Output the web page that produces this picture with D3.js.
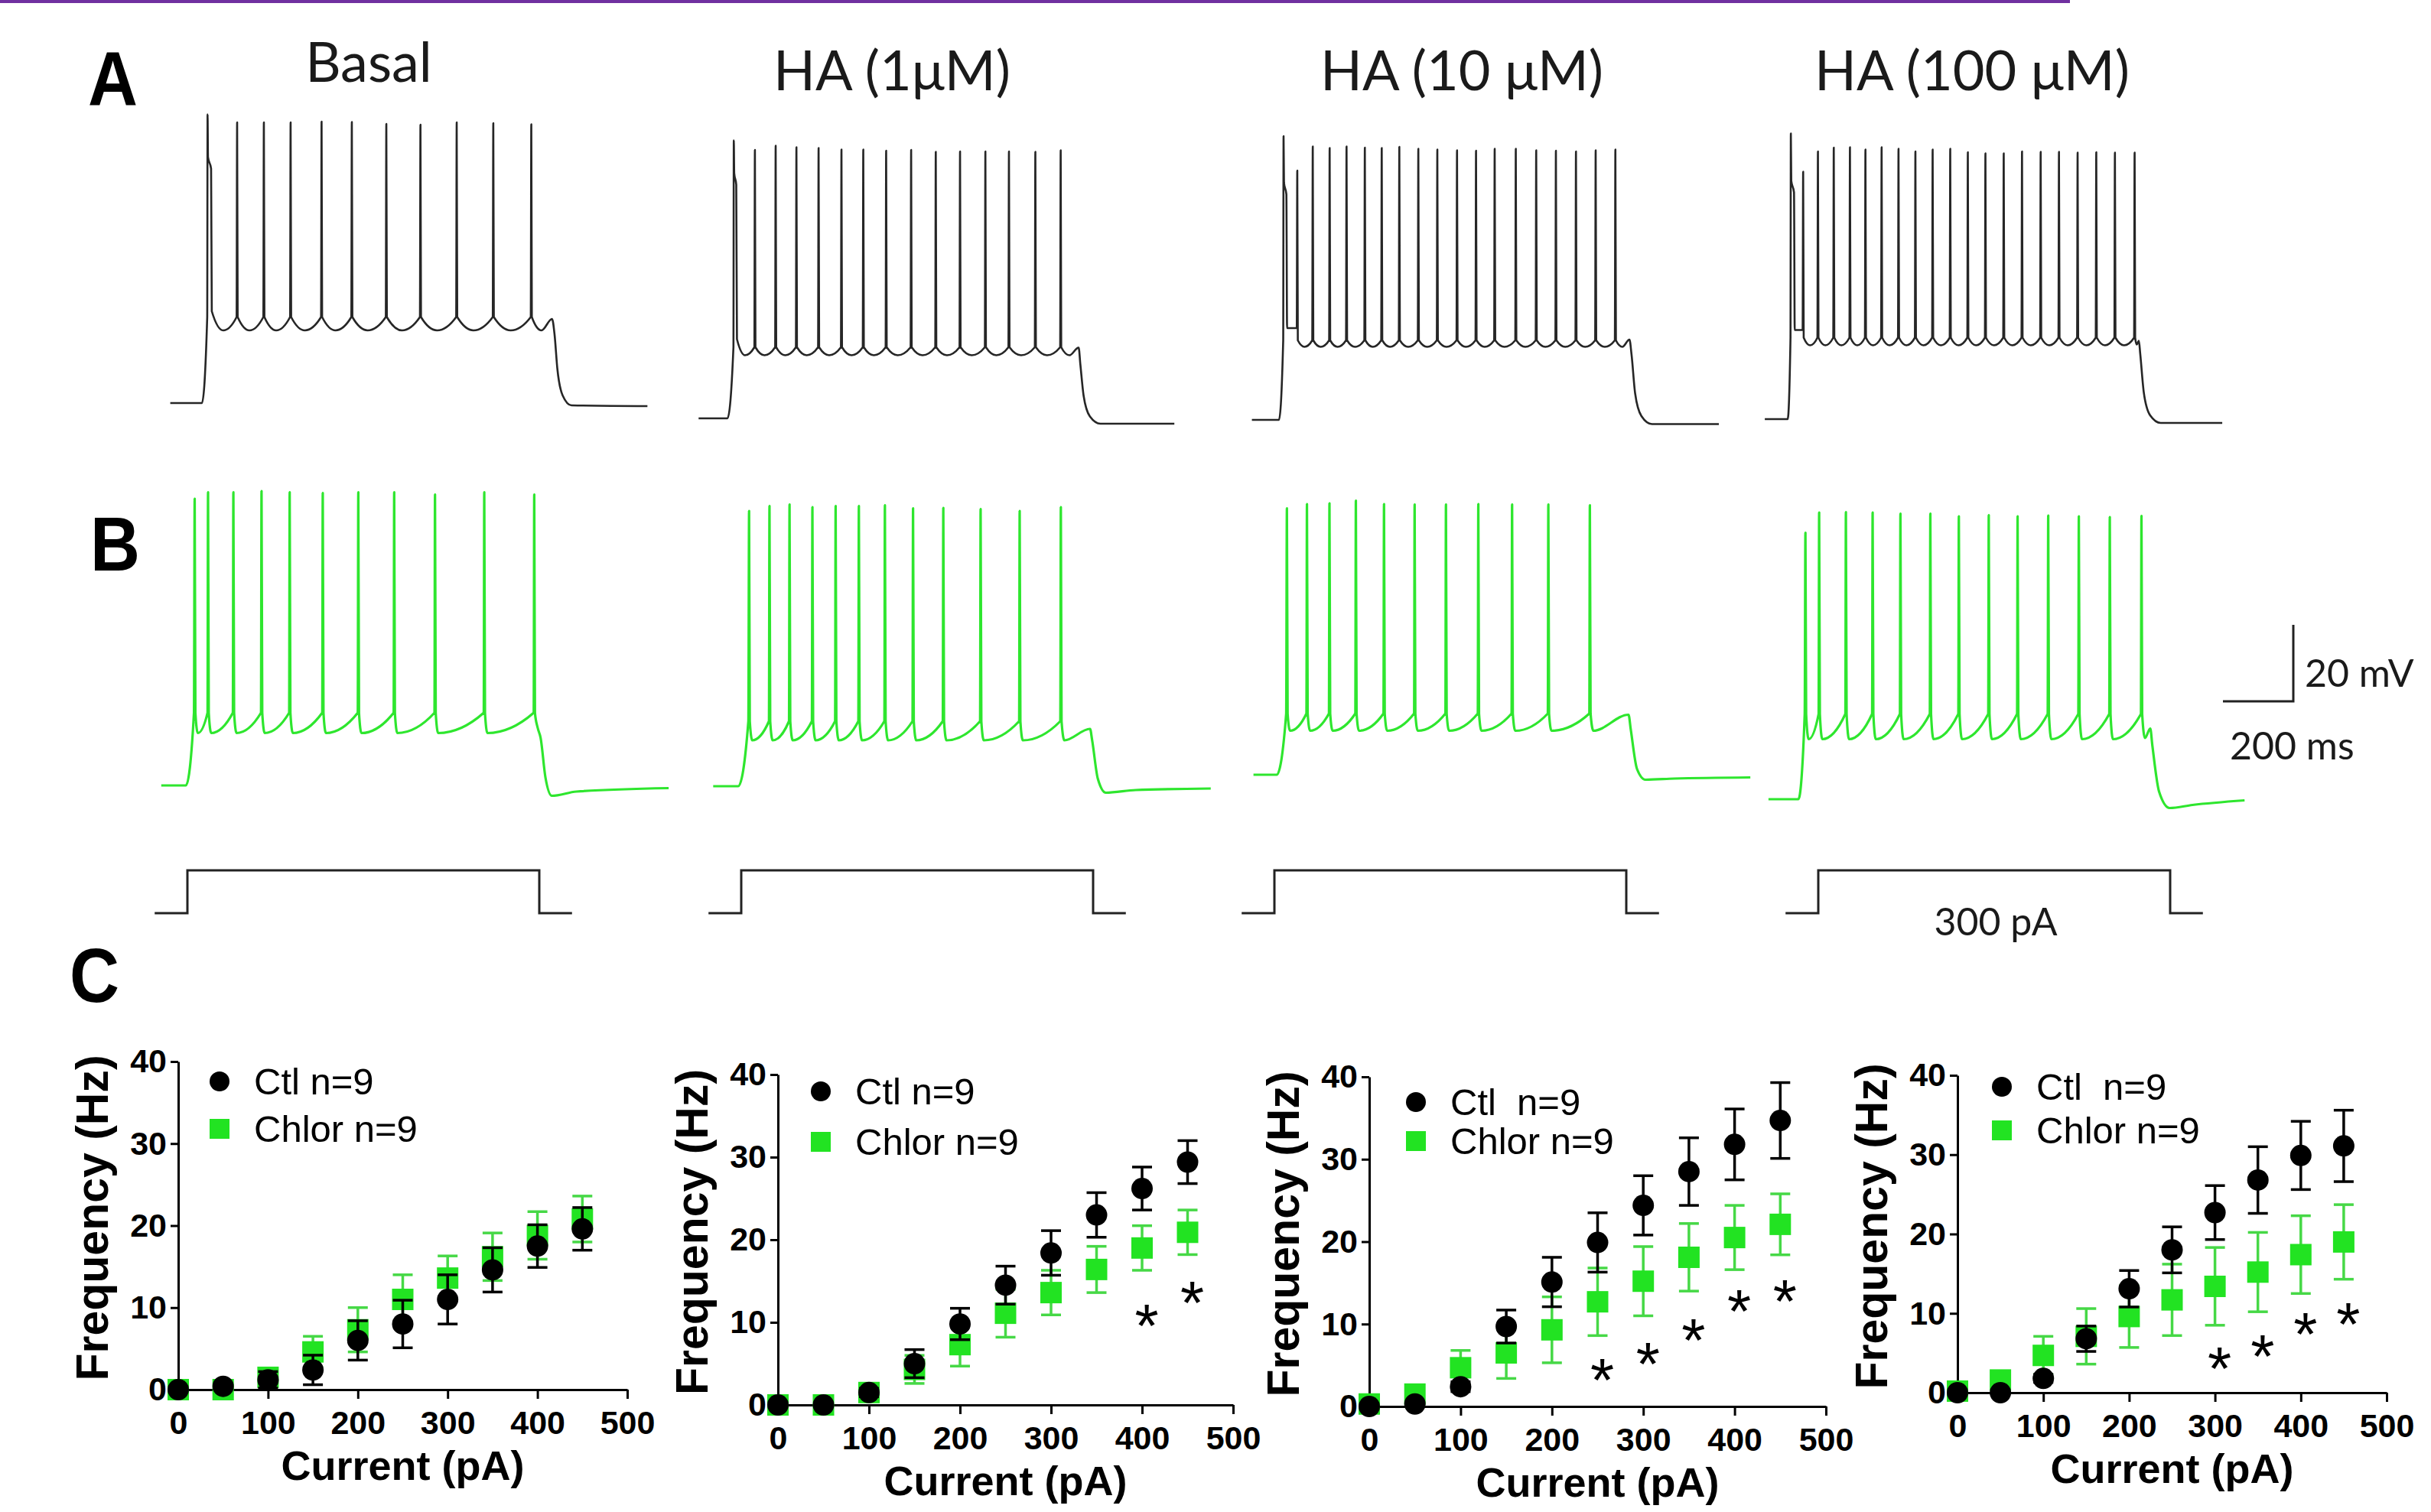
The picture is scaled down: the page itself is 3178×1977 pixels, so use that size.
<!DOCTYPE html>
<html>
<head>
<meta charset="utf-8">
<script src="https://cdnjs.cloudflare.com/ajax/libs/d3/7.8.5/d3.min.js"></script>
<style>
  body { margin: 0; background: #fff; overflow: hidden; }
  svg { display: block; }
</style>
</head>
<body>
<script>
const W = 3178, H = 1977;

// ---------------- data ----------------
const conditions = ["Basal", "HA (1μM)", "HA (10 μM)", "HA (100 μM)"];

// row A (black): spike times in ms after step onset, spike peaks in mV
const ctlSpikeTimes = [
  [16, 100, 176, 252, 340, 426, 524, 621, 724, 828, 936],
  [18, 78, 137, 196, 259, 324, 386, 451, 522, 592, 661, 733, 800, 875, 947],
  [13, 52, 96, 144, 192, 244, 292, 342, 396, 450, 506, 560, 613, 673, 731, 787, 844, 900, 956],
  [9, 44, 86, 131, 177, 221, 267, 315, 363, 412, 462, 512, 562, 614, 666, 719, 771, 824, 877, 930, 986]
];
const ctlSpikePeaks = [
  [5.5, 3.4, 3.4, 3.4, 3.6, 3.5, 3.0, 2.8, 3.4, 3.2, 2.9],
  [2.7, 0.2, 1.3, 0.9, 0.7, 0.3, 0.3, 0.0, 0.2, -0.3, -0.2, -0.2, -0.2, -0.3, 0.1],
  [4.2, -4.8, 1.5, 1.1, 1.5, 1.2, 1.1, 1.4, 0.9, 0.7, 0.5, 0.4, 0.9, 0.9, 0.5, 0.4, 0.2, 0.5, 0.7],
  [4.7, -5.3, 0, 1, 1.1, 0.5, 1.1, 0.7, 0, 0.5, 0.7, -0.2, -0.5, -0.5, 0, -0.1, -0.1, -0.3, -0.2, -0.3, -0.3]
];
const ctlTrough = [-51, -53.5, -50.9, -50.7];
const ctlThreshold = [-47.5, -51.4, -49.2, -48.7];
const ctlShoulder = [-8.7, -8.9, -11, -10.7];
const ctlShoulderDelay = [10, 7, 8, 9];
const ctlHump = [-46, -49.3, -46, -46.7];
const ctlStartTime = [-90, -82, -77, -65];
const ctlTail = [
  [[937.5, -47.5], [965, -51], [995, -48], [1002, -52], [1010, -61], [1025, -68], [1050, -70.6], [1266, -70.8]],
  [[948.5, -51.4], [972, -53.5], [998, -51.5], [1003, -56], [1012, -64], [1030, -69.5], [1060, -71.4], [1270, -71.4]],
  [[957.5, -49.2], [976, -50.9], [996, -49], [1002, -53], [1012, -63], [1030, -69], [1060, -71.1], [1250, -71.1]],
  [[987.5, -48.7], [992, -50.5], [998, -49.5], [1002, -53], [1012, -63], [1030, -69], [1060, -71], [1235, -71]]
];

// row B (green)
const chlSpikeTimes = [
  [25, 63, 135, 215, 295, 389, 490, 592, 708, 848, 990],
  [31, 89, 146, 211, 277, 343, 417, 497, 583, 689, 800, 917],
  [29, 86, 150, 225, 305, 392, 481, 573, 669, 772, 890],
  [20, 59, 135, 211, 290, 375, 456, 541, 623, 710, 797, 885, 975]
];
const chlSpikePeaks = [
  [5, 6.7, 6.7, 7, 6.7, 6.5, 6.7, 6.7, 6.1, 6.7, 6.1],
  [2, 3.3, 3.7, 3, 3.3, 3.3, 3.5, 2.7, 2.8, 2.5, 2, 3],
  [-0.3, 0.8, 1, 1.7, 0.8, 0.7, 0.7, 0.8, 0.7, 0.7, 0.5],
  [-0.3, 5, 5.1, 5, 4.7, 4.7, 4, 4.3, 4, 4.2, 4, 3.8, 4.1]
];
const chlTrough = [-56.3, -58, -58.5, -54.3];
const chlThreshold = [-51, -53, -54, -47.7];
const chlStartTime = [-70, -71, -66, -85];
const chlTail = [
  [[992, -51], [1000, -55], [1008, -57.5], [1022, -68], [1040, -72.7], [1110, -71.6], [1372, -70.7]],
  [[919, -53], [927, -58], [1000, -55], [1006, -58], [1022, -68], [1045, -71.7], [1130, -71], [1343, -70.6]],
  [[892, -54], [900, -58.5], [1000, -54.3], [1006, -58], [1024, -68.5], [1048, -71.3], [1130, -71], [1346, -70.7]],
  [[977, -47.7], [985, -54], [1000, -51.5], [1006, -56], [1025, -68], [1055, -72.3], [1120, -71.5], [1268, -70.3]]
];

// current step (ms, pA)
const stepTime = [-93, 0, 0, 1000, 1000, 1093];
const stepCurrent = [0, 0, 300, 300, 0, 0];
const scaleBarMs = 200, scaleBarMv = 20;

// panel C: firing frequency (Hz) vs injected current (pA)
const currents = [0, 50, 100, 150, 200, 250, 300, 350, 400, 450];
const ctlMean = [
  [0, 0.4, 1.2, 2.4, 6.0, 8.0, 11.0, 14.6, 17.5, 19.6],
  [0, 0, 1.5, 5.0, 9.8, 14.5, 18.4, 23.0, 26.2, 29.4],
  [0, 0.3, 2.4, 9.7, 15.1, 19.9, 24.4, 28.5, 31.8, 34.7],
  [0, 0, 1.8, 6.8, 13.1, 18.0, 22.7, 26.8, 29.9, 31.1]
];
const ctlSem = [
  [0, 0.3, 1.0, 1.8, 2.4, 2.9, 3.0, 2.7, 2.6, 2.6],
  [0, 0, 0.5, 1.7, 1.9, 2.3, 2.7, 2.7, 2.6, 2.6],
  [0, 0.3, 0.6, 2.0, 3.0, 3.6, 3.6, 4.1, 4.3, 4.6],
  [0, 0, 0.5, 1.6, 2.3, 2.9, 3.4, 4.2, 4.3, 4.5]
];
const chlorMean = [
  [0, 0, 1.5, 4.6, 7.3, 11.0, 13.6, 16.2, 18.8, 20.8],
  [0, 0, 1.5, 4.3, 7.3, 11.1, 13.6, 16.4, 19.0, 20.9],
  [0.3, 1.5, 4.7, 6.5, 9.3, 12.7, 15.2, 18.1, 20.5, 22.1],
  [0.2, 1.6, 4.7, 7.1, 9.6, 11.7, 13.4, 15.2, 17.4, 19.0]
];
const chlorSem = [
  [0, 0, 0.5, 1.9, 2.7, 3.0, 2.7, 2.9, 2.9, 2.8],
  [0, 0, 0.5, 1.7, 2.6, 2.9, 2.7, 2.8, 2.7, 2.7],
  [0.3, 0.6, 2.1, 3.1, 4.0, 4.1, 4.2, 4.1, 3.9, 3.7],
  [0.2, 0.6, 2.4, 3.5, 3.9, 4.5, 4.9, 5.0, 4.9, 4.7]
];
const starCurrent = [[], [400, 450], [250, 300, 350, 400, 450], [300, 350, 400, 450]];
const starHz = [[], [11.3, 14.1], [4.9, 6.9, 9.7, 13.3, 14.5], [4.8, 6.4, 9.2, 10.4]];
const legendCtl = ["Ctl n=9", "Ctl n=9", "Ctl  n=9", "Ctl  n=9"];
const legendChlor = "Chlor n=9";
const xTicks = [0, 100, 200, 300, 400, 500];
const yTicks = [0, 10, 20, 30, 40];

// ---------------- layout ----------------
const ARIAL = "'Liberation Sans', Arial, sans-serif";
const CALI = "Lato, 'Open Sans', sans-serif";
const BLACK = "#262626", GREEN = "#2ee62e", MARK_GREEN = "#22e322", BAR_GREEN = "#46d846";
const msPx = 0.46, mvPx = 5;
const colA = [264, 951, 1672, 2337], restA = [527, 547, 549, 548];
const colB = [243, 965, 1669, 2351], restB = [1027, 1028, 1013, 1045];
const colStep = [245, 969, 1666, 2377], stepLow = 1194;
const titleX = [482, 1166, 1911, 2578], titleY = [107, 118, 118, 118];

const svg = d3.select("body").append("svg")
    .attr("width", W)
    .attr("height", H);

svg.append("rect").attr("x", 0).attr("y", 0).attr("width", 2706).attr("height", 4)
    .attr("fill", "#7030a0");

// panel letters
[["A", 115, 138], ["B", 118, 746], ["C", 91, 1310]].forEach(function (p) {
  svg.append("text")
      .attr("transform", "translate(" + p[1] + "," + p[2] + ") scale(0.9,1)")
      .attr("font-family", ARIAL).attr("font-weight", "bold").attr("font-size", 100)
      .text(p[0]);
});

// condition titles
svg.selectAll(".title").data(conditions).enter().append("text")
    .attr("class", "title")
    .attr("x", (d, i) => titleX[i]).attr("y", (d, i) => titleY[i])
    .attr("text-anchor", "middle")
    .attr("font-family", CALI).attr("font-size", 72).attr("fill", "#1a1a1a")
    .text(d => d);

// ---------------- traces ----------------
function ctlPoints(i) {
  const ts = ctlSpikeTimes[i], pk = ctlSpikePeaks[i];
  const thr = ctlThreshold[i], tr = ctlTrough[i];
  const dly = ctlShoulderDelay[i];
  let pts = [[ctlStartTime[i], -70], [0, -70], [ts[0] - 1, thr], [ts[0], pk[0]],
      [ts[0] + 1.2, ctlShoulder[i] + 3], [ts[0] + dly, ctlShoulder[i]],
      [ts[0] + dly + 2, ctlHump[i]]];
  let from = ts[0] + dly + 2;
  for (let k = 1; k < ts.length; k++) {
    const longGap = ts[k] - from > 40;
    if (longGap) pts.push([from + 0.45 * (ts[k] - from), tr]);
    pts.push([ts[k] - 1.5, (k === 1 && !longGap) ? ctlHump[i] : thr]);
    pts.push([ts[k], pk[k]]);
    from = ts[k] + 1.5;
    if (k < ts.length - 1) pts.push([from, thr]);
  }
  return pts.concat(ctlTail[i]);
}

function chlPoints(i) {
  const ts = chlSpikeTimes[i], pk = chlSpikePeaks[i];
  const thr = chlThreshold[i], tr = chlTrough[i];
  let pts = [[chlStartTime[i], -70], [0, -70], [ts[0] - 2, thr]];
  ts.forEach(function (t, k) {
    if (k > 0) pts.push([ts[k - 1] + 2, thr], [ts[k - 1] + 9, tr], [t - 1.5, thr]);
    pts.push([t, pk[k]]);
  });
  return pts.concat(chlTail[i]);
}

function drawTrace(pts, x0, rest, color, width) {
  const x = d3.scaleLinear().domain([0, 1000]).range([x0, x0 + 1000 * msPx]);
  const y = d3.scaleLinear().domain([-70, 0]).range([rest, rest - 70 * mvPx]);
  const line = d3.line().x(d => x(d[0])).y(d => y(d[1])).curve(d3.curveMonotoneX);
  svg.append("path").attr("d", line(pts))
      .attr("fill", "none").attr("stroke", color)
      .attr("stroke-width", width).attr("stroke-linejoin", "round");
}

conditions.forEach(function (c, i) {
  drawTrace(ctlPoints(i), colA[i], restA[i], BLACK, 2.6);
  drawTrace(chlPoints(i), colB[i], restB[i], GREEN, 3.2);

  const sx = d3.scaleLinear().domain([0, 1000]).range([colStep[i], colStep[i] + 1000 * msPx]);
  const sy = d3.scaleLinear().domain([0, 300]).range([stepLow, stepLow - 56]);
  const stepLine = d3.line().x((d, k) => sx(stepTime[k])).y(d => sy(d));
  svg.append("path").attr("d", stepLine(stepCurrent))
      .attr("fill", "none").attr("stroke", "#222").attr("stroke-width", 3);
});

svg.append("text").attr("x", 2609).attr("y", 1223).attr("text-anchor", "middle")
    .attr("font-family", CALI).attr("font-size", 50).attr("fill", "#1a1a1a")
    .text("300 pA");

// scale bar
const barX = 2998, barY = 917;
svg.append("path")
    .attr("d", "M" + (barX - scaleBarMs * msPx) + "," + barY + "H" + barX + "V" + (barY - scaleBarMv * mvPx))
    .attr("fill", "none").attr("stroke", "#222").attr("stroke-width", 3);
svg.append("text").attr("x", 3013).attr("y", 898)
    .attr("font-family", CALI).attr("font-size", 50).attr("fill", "#1a1a1a")
    .text(scaleBarMv + " mV");
svg.append("text").attr("x", 2915).attr("y", 993)
    .attr("font-family", CALI).attr("font-size", 50).attr("fill", "#1a1a1a")
    .text(scaleBarMs + " ms");

// ---------------- panel C ----------------
const charts = [
  {x0: 233, x1: 820, yTop: 1388, y0: 1817, lx: 54, ly1: 26, ly2: 88},
  {x0: 1017, x1: 1612, yTop: 1405, y0: 1837, lx: 56, ly1: 22, ly2: 88},
  {x0: 1790, x1: 2387, yTop: 1408, y0: 1839, lx: 61, ly1: 33, ly2: 84},
  {x0: 2559, x1: 3120, yTop: 1406, y0: 1821, lx: 58, ly1: 15, ly2: 72}
];

charts.forEach(function (b, i) {
  const g = svg.append("g");
  const x = d3.scaleLinear().domain([0, 500]).range([b.x0, b.x1]);
  const y = d3.scaleLinear().domain([0, 40]).range([b.y0, b.yTop]);

  const xa = g.append("g").attr("transform", "translate(0," + b.y0 + ")")
      .call(d3.axisBottom(x).tickValues(xTicks).tickSize(12).tickPadding(15).tickSizeOuter(0));
  const ya = g.append("g").attr("transform", "translate(" + b.x0 + ",0)")
      .call(d3.axisLeft(y).tickValues(yTicks).tickSize(10).tickPadding(5).tickSizeOuter(0));
  [xa, ya].forEach(function (a) {
    a.attr("font-family", ARIAL).attr("font-size", 43).attr("font-weight", "bold");
    a.selectAll("path, line").attr("stroke", "#000").attr("stroke-width", 3);
    a.selectAll("text").attr("fill", "#000");
  });

  g.append("text")
      .attr("transform", "translate(" + (b.x0 - 92) + "," + ((b.y0 + b.yTop) / 2 - 10) + ") rotate(-90)")
      .attr("text-anchor", "middle")
      .attr("font-family", ARIAL).attr("font-weight", "bold").attr("font-size", 59)
      .text("Frequency (Hz)");
  g.append("text")
      .attr("x", (b.x0 + b.x1) / 2).attr("y", b.y0 + 118)
      .attr("text-anchor", "middle")
      .attr("font-family", ARIAL).attr("font-weight", "bold").attr("font-size", 54)
      .text("Current (pA)");

  function errorBars(means, sems, color) {
    const eb = g.append("g").attr("stroke", color).attr("stroke-width", 3.5);
    currents.forEach(function (c, k) {
      if (sems[k] <= 0) return;
      const top = y(means[k] + sems[k]), bot = y(means[k] - sems[k]), cx = x(c);
      eb.append("line").attr("x1", cx).attr("x2", cx).attr("y1", top).attr("y2", bot);
      eb.append("line").attr("x1", cx - 13).attr("x2", cx + 13).attr("y1", top).attr("y2", top);
      eb.append("line").attr("x1", cx - 13).attr("x2", cx + 13).attr("y1", bot).attr("y2", bot);
    });
  }

  errorBars(chlorMean[i], chlorSem[i], BAR_GREEN);
  g.selectAll(".sq").data(chlorMean[i]).enter().append("rect")
      .attr("x", (d, k) => x(currents[k]) - 14).attr("y", d => y(d) - 14)
      .attr("width", 28).attr("height", 28).attr("fill", MARK_GREEN);

  errorBars(ctlMean[i], ctlSem[i], "#000");
  g.selectAll(".dot").data(ctlMean[i]).enter().append("circle")
      .attr("cx", (d, k) => x(currents[k])).attr("cy", d => y(d))
      .attr("r", 14).attr("fill", "#000");

  g.selectAll(".star").data(starHz[i]).enter().append("text")
      .attr("x", (d, k) => x(starCurrent[i][k]) + 6).attr("y", d => y(d) + 46)
      .attr("text-anchor", "middle")
      .attr("font-family", ARIAL).attr("font-size", 80)
      .text("*");

  // legend
  g.append("circle").attr("cx", b.x0 + b.lx).attr("cy", b.yTop + b.ly1).attr("r", 13).attr("fill", "#000");
  g.append("rect").attr("x", b.x0 + b.lx - 13).attr("y", b.yTop + b.ly2 - 13)
      .attr("width", 26).attr("height", 26).attr("fill", MARK_GREEN);
  g.append("text").attr("x", b.x0 + b.lx + 45).attr("y", b.yTop + b.ly1 + 17)
      .attr("font-family", ARIAL).attr("font-size", 49).style("white-space", "pre")
      .text(legendCtl[i]);
  g.append("text").attr("x", b.x0 + b.lx + 45).attr("y", b.yTop + b.ly2 + 17)
      .attr("font-family", ARIAL).attr("font-size", 49)
      .text(legendChlor);
});
</script>
</body>
</html>
